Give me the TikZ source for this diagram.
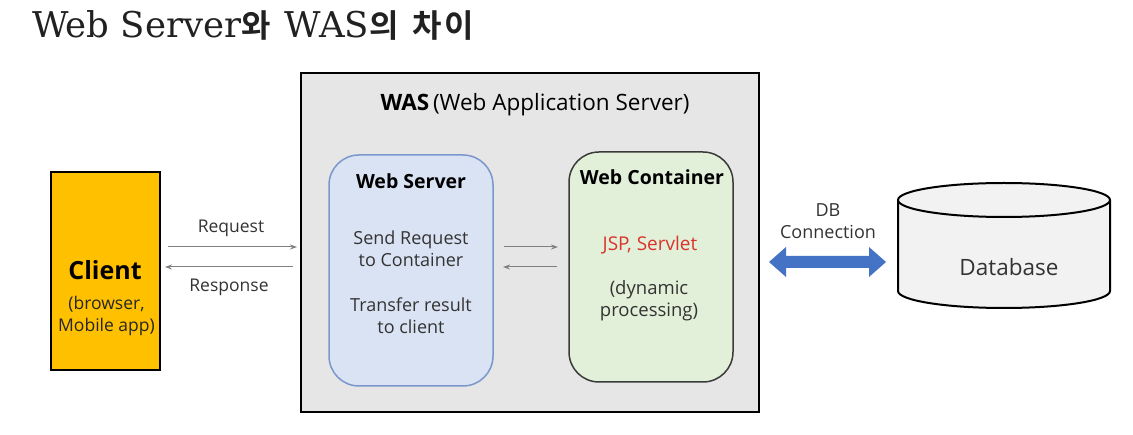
\documentclass[tikz,border=0pt]{standalone}
\usepackage{fontspec}
\usetikzlibrary{arrows.meta}
\setmainfont{Open Sans}
\newfontfamily\titleserif{DejaVu Serif}
\newfontfamily\krfont{Noto Sans CJK KR}[BoldFont={* Bold}]
\newcommand{\krbit}[1]{{\fontsize{32}{36}\selectfont\krfont\bfseries #1}}
\definecolor{clientfill}{HTML}{FFC000}
\definecolor{wasfill}{HTML}{E7E6E6}
\definecolor{wsfill}{HTML}{DAE3F3}
\definecolor{wsline}{HTML}{7A97CC}
\definecolor{wcfill}{HTML}{E2F0D9}
\definecolor{wcline}{HTML}{3A3A3A}
\definecolor{dbfill}{HTML}{F2F2F2}
\definecolor{dbblue}{HTML}{4472C4}
\definecolor{jspred}{HTML}{D9342B}
\definecolor{bodytext}{HTML}{333333}
\definecolor{flowgray}{HTML}{808080}
\tikzset{
  txt/.style={inner sep=0pt, text=bodytext, font=\fontsize{18}{22}\selectfont, align=center},
  head/.style={inner sep=0pt, text=black, font=\fontsize{19.5}{23}\selectfont\bfseries},
  flow/.style={draw=flowgray, line width=1pt, -{Stealth[length=7pt,width=5pt]}},
  panel/.style={rounded corners=30pt, line width=1.5pt}
}
\begin{document}
\begin{tikzpicture}[x=1pt,y=-1pt]
\useasboundingbox (0,0) rectangle (1133,435);
\fill[white] (0,0) rectangle (1133,435);

% heading
\node[anchor=base west, inner sep=0pt, text=black!87] (title) at (32,38)
  {\fontsize{35.5}{40}\selectfont\titleserif Web Server\krbit{와}\hspace{14pt}WAS\krbit{의}\hspace{14pt}\krbit{차\hspace{2pt}이}};

% client
\node[draw=black, line width=2pt, fill=clientfill, minimum width=109pt, minimum height=198pt, inner sep=0pt] (client) at (105.5,271) {};
\node[inner sep=0pt, font=\fontsize{25}{30}\selectfont\bfseries] (clientname) at (105,270) {Client};
\node[txt, text=black!85, font=\fontsize{17.5}{22}\selectfont] (clientsub) at (106.5,316) {(browser,\\Mobile app)};

% WAS container
\node[draw=black, line width=2.5pt, fill=wasfill, minimum width=458pt, minimum height=339pt, inner sep=0pt] (was) at (530,242.5) {};
\node[inner sep=0pt, font=\fontsize{22.5}{26}\selectfont] (wastitle) at (535,105) {\textbf{WAS}\,(Web Application Server)};

% web server panel
\node[panel, draw=wsline, fill=wsfill, minimum width=164pt, minimum height=231pt, inner sep=0pt] (ws) at (411,270.5) {};
\node[head] (wshead) at (411,181) {Web Server};
\node[txt] (wsbody1) at (411,249) {Send Request\\to Container};
\node[txt] (wsbody2) at (411,316) {Transfer result\\to client};

% web container panel
\node[panel, draw=wcline, fill=wcfill, minimum width=164pt, minimum height=230pt, inner sep=0pt] (wc) at (651,267) {};
\node[head] (wchead) at (652,177) {Web Container};
\node[txt, text=jspred, font=\fontsize{19}{22}\selectfont] (jsp) at (650,245) {JSP, Servlet};
\node[txt, font=\fontsize{18.5}{22}\selectfont] (wcbody) at (649,301) {(dynamic\\processing)};

% request / response between client and WAS
\coordinate (reqA) at (168,247);
\coordinate (reqB) at (297,247);
\coordinate (resA) at (293,267);
\coordinate (resB) at (165,267);
\draw[flow] (reqA) -- (reqB);
\draw[flow] (resA) -- (resB);
\node[txt, text=bodytext, font=\fontsize{17.5}{22}\selectfont] (reqlabel) at (231,228) {Request};
\node[txt, text=bodytext, font=\fontsize{17.5}{22}\selectfont] (reslabel) at (229,287) {Response};

% hand-off between web server and web container
\coordinate (inA) at (504,247);
\coordinate (inB) at (558,247);
\coordinate (outA) at (557,267);
\coordinate (outB) at (503,267);
\draw[flow] (inA) -- (inB);
\draw[flow] (outA) -- (outB);

% database cylinder
\draw[line width=2pt, fill=dbfill] (898,200) -- (898,291) arc[start angle=180, end angle=0, x radius=106, y radius=17] -- (1110,200);
\draw[line width=2pt, fill=dbfill] (1004,200) ellipse[x radius=106, y radius=17];
\node[txt, text=bodytext, font=\fontsize{22.5}{26}\selectfont] (db) at (1009,267) {Database};

% DB connection arrow
\fill[dbblue] (769,262) -- (786,247) -- (786,256) -- (869,256) -- (869,247) -- (886,262)
  -- (869,277) -- (869,268) -- (786,268) -- (786,277) -- cycle;
\node[txt, text=bodytext, font=\fontsize{18}{22}\selectfont] (dblabel) at (828,221) {DB\\Connection};
\end{tikzpicture}
\end{document}
